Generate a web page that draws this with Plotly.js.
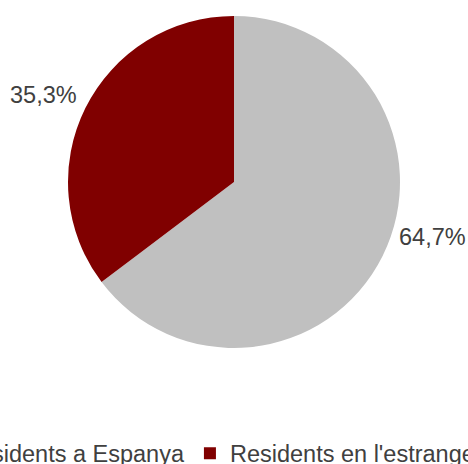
<!DOCTYPE html>
<html>
<head>
<meta charset="utf-8">
<script src="https://cdn.plot.ly/plotly-3.0.1.min.js"></script>
<style>
html,body{margin:0;padding:0;overflow:hidden;width:468px;height:464px;background:#fff;}
#wrap{position:absolute;left:-166px;top:0;width:800px;height:464px;}
</style>
</head>
<body>
<div id="wrap"></div>
<script>
var categories = ["Residents a Espanya", "Residents en l'estranger"];
var shares = [64.7, 35.3];
var sliceColors = ["#C0C0C0", "#800000"];
// label anchor positions (paper fractions) for the outside percentage labels
var labelX = [0.7475, 0.2616];
var labelY = [0.335, 0.763];

var FONT = 'Liberation Sans, Arial, sans-serif';
var TXT = '#404040';

var trace = {
  type: 'pie',
  labels: categories,
  values: shares,
  sort: false,
  direction: 'clockwise',
  rotation: 0,
  marker: {colors: sliceColors, line: {width: 0}},
  textposition: 'none',
  hoverinfo: 'none',
  showlegend: true
};

var total = shares.reduce(function (a, b) { return a + b; }, 0);
var annotations = shares.map(function (v, i) {
  return {
    xref: 'paper', yref: 'paper',
    x: labelX[i], y: labelY[i],
    xanchor: 'center', yanchor: 'middle',
    showarrow: false,
    text: (v / total * 100).toFixed(1).replace('.', ',') + '%',
    font: {family: FONT, size: 23.5, color: TXT}
  };
});

var layout = {
  width: 800,
  height: 464,
  margin: {l: 0, r: 0, t: 16, b: 116, autoexpand: false},
  paper_bgcolor: '#ffffff',
  plot_bgcolor: '#ffffff',
  showlegend: true,
  annotations: annotations,
  legend: {
    orientation: 'h',
    x: 0.1099, xanchor: 'left',
    y: -0.2514, yanchor: 'top',
    font: {family: FONT, size: 23.5, color: TXT},
    traceorder: 'normal'
  }
};

Plotly.newPlot('wrap', [trace], layout, {displayModeBar: false, staticPlot: true});
</script>
</body>
</html>
